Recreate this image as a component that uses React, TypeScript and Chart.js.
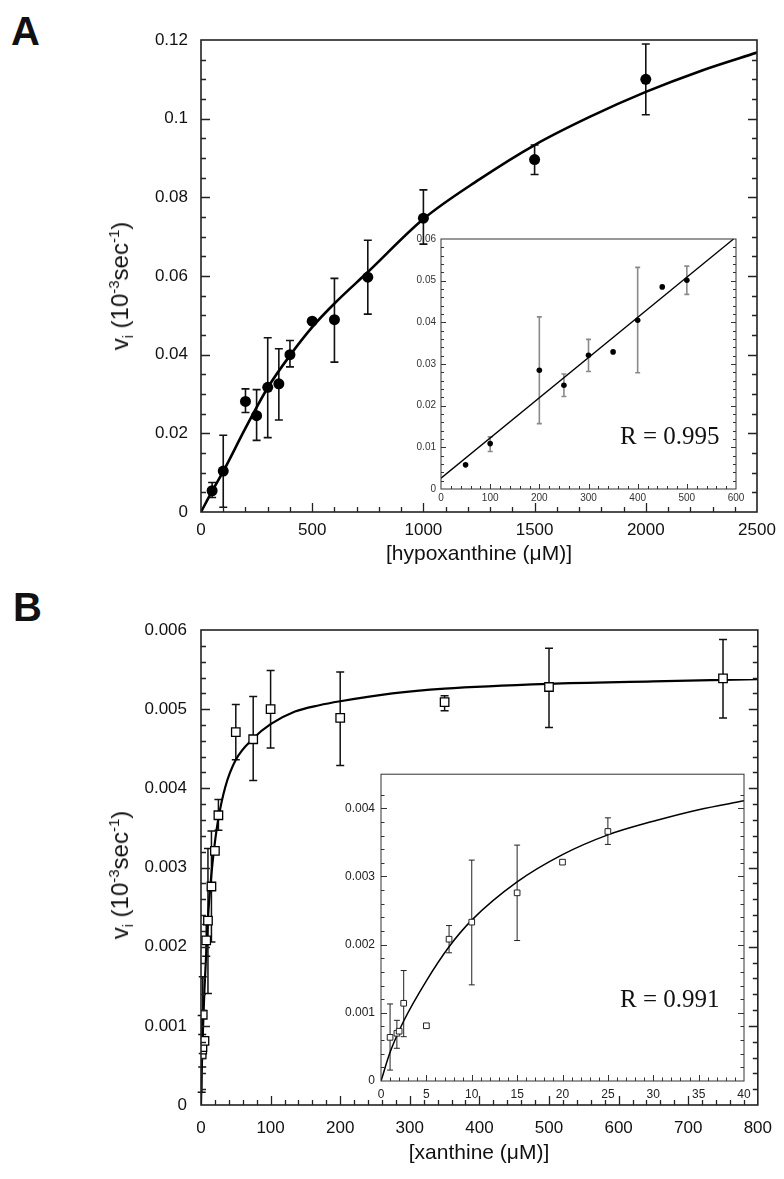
import React, { useEffect, useRef } from "react";
import { Chart, registerables } from "chart.js";
Chart.register(...registerables);

// ---------- Panel A (hypoxanthine) ----------
const hypoX = [50, 100, 200, 250, 300, 350, 400, 500, 600, 750, 1000, 1500, 2000];
const hypoV = [0.0054, 0.0104, 0.0281, 0.0245, 0.0317, 0.0326, 0.04, 0.0485, 0.0489, 0.0597, 0.0747, 0.0896, 0.11];
const hypoLo = [0.0037, 0.0012, 0.0253, 0.0182, 0.0189, 0.0234, 0.0369, null, 0.0381, 0.0503, 0.0681, 0.0858, 0.101];
const hypoHi = [0.0075, 0.0195, 0.0313, 0.0311, 0.0443, 0.0415, 0.0436, null, 0.0594, 0.0691, 0.0819, 0.0933, 0.119];
const hypoFitX = [0, 50, 100, 200, 300, 400, 500, 600, 750, 1000, 1250, 1500, 1750, 2000, 2250, 2500];
const hypoFitV = [0, 0.0053, 0.0103, 0.0213, 0.0316, 0.0398, 0.047, 0.053, 0.061, 0.0745, 0.0845, 0.0933, 0.1005, 0.1068, 0.1122, 0.1168];
const hypoXTicks = [0, 500, 1000, 1500, 2000, 2500];
const hypoXLabels = ["0", "500", "1000", "1500", "2000", "2500"];
const hypoYTicks = [0, 0.02, 0.04, 0.06, 0.08, 0.1, 0.12];
const hypoYLabels = ["0", "0.02", "0.04", "0.06", "0.08", "0.1", "0.12"];

// inset A (linear range)
const insAX = [50, 100, 200, 250, 300, 350, 400, 450, 500];
const insAV = [0.0058, 0.0109, 0.0285, 0.0249, 0.0321, 0.0329, 0.0405, 0.0485, 0.0501];
const insALo = [null, 0.009, 0.0157, 0.0222, 0.0282, null, 0.0279, null, 0.0467];
const insAHi = [null, 0.0125, 0.0413, 0.0276, 0.0359, null, 0.0532, null, 0.0535];
const insAFitX = [0, 595];
const insAFitV = [0.0026, 0.06];
const insAXTicks = [0, 100, 200, 300, 400, 500, 600];
const insAXLabels = ["0", "100", "200", "300", "400", "500", "600"];
const insAYTicks = [0, 0.01, 0.02, 0.03, 0.04, 0.05, 0.06];
const insAYLabels = ["0", "0.01", "0.02", "0.03", "0.04", "0.05", "0.06"];

// ---------- Panel B (xanthine) ----------
const xanX = [1, 1.75, 2, 2.5, 5, 7.5, 10, 15, 20, 25, 50, 75, 100, 200, 350, 500, 750];
const xanV = [0.00064, 0.0007, 0.00073, 0.00114, 0.00081, 0.00208, 0.00233, 0.00276, 0.00321, 0.00366, 0.00471, 0.00462, 0.005, 0.00489, 0.00509, 0.00528, 0.00539];
const xanLo = [0.00016, 0.00048, null, 0.00065, 0.00078, 0.00188, 0.00141, 0.00206, null, 0.00347, 0.00436, 0.0041, 0.00451, 0.00429, 0.00498, 0.00477, 0.00489];
const xanHi = [0.00113, 0.00089, null, 0.00162, 0.00084, 0.00228, 0.00324, 0.00346, null, 0.00386, 0.00506, 0.00516, 0.00549, 0.00547, 0.00517, 0.00577, 0.00588];
const xanFitX = [0, 1, 2.5, 5, 10, 15, 20, 25, 35, 50, 75, 100, 135, 170, 200, 275, 350, 500, 650, 800];
const xanFitV = [0, 0.00042, 0.00088, 0.00147, 0.00236, 0.00292, 0.00332, 0.00362, 0.00402, 0.00436, 0.00463, 0.00481, 0.00497, 0.00505, 0.0051, 0.0052, 0.00526, 0.00532, 0.00535, 0.00538];
const xanXTicks = [0, 100, 200, 300, 400, 500, 600, 700, 800];
const xanXLabels = ["0", "100", "200", "300", "400", "500", "600", "700", "800"];
const xanYTicks = [0, 0.001, 0.002, 0.003, 0.004, 0.005, 0.006];
const xanYLabels = ["0", "0.001", "0.002", "0.003", "0.004", "0.005", "0.006"];

// inset B (low range)
const insBX = [1, 1.75, 2, 2.5, 5, 7.5, 10, 15, 20, 25];
const insBV = [0.00064, 0.0007, 0.00073, 0.00114, 0.00081, 0.00208, 0.00233, 0.00276, 0.00321, 0.00366];
const insBLo = [0.00016, 0.00048, null, 0.00065, 0.00078, 0.00188, 0.00141, 0.00206, null, 0.00347];
const insBHi = [0.00113, 0.00089, null, 0.00162, 0.00084, 0.00228, 0.00324, 0.00346, null, 0.00386];
const insBFitX = [0, 1, 2.5, 5, 7.5, 10, 15, 20, 25, 30, 35, 40];
const insBFitV = [0, 0.00042, 0.00088, 0.00147, 0.00197, 0.00236, 0.00292, 0.00332, 0.00361, 0.00381, 0.00398, 0.00411];
const insBXTicks = [0, 5, 10, 15, 20, 25, 30, 35, 40];
const insBXLabels = ["0", "5", "10", "15", "20", "25", "30", "35", "40"];
const insBYTicks = [0, 0.001, 0.002, 0.003, 0.004];
const insBYLabels = ["0", "0.001", "0.002", "0.003", "0.004"];

const pts = (xs: number[], ys: number[]) => xs.map((x, i) => ({ x, y: ys[i] }));

type Spec = {
  id: string;
  left: number; top: number; w: number; h: number; z: number;
  pad: { left: number; top: number; right: number; bottom: number };
  yW: number; xH: number;
  xMin: number; xMax: number; yMin: number; yMax: number;
  xTicks: number[]; xLabels: string[]; yTicks: number[]; yLabels: string[];
  xMinor: number; xMajor: number; yMinor: number; yMajor: number;
  font: number; color: string; xPad: number; yPad: number;
  majorLen: number; minorLen: number; frameW: number; frameColor: string;
  err: { x: number[]; lo: (number | null)[]; hi: (number | null)[]; color: string; width: number; cap: number };
  datasets: any[];
};

function drawTicks(chart: any, s: Spec) {
  const { ctx, chartArea: a } = chart;
  const xs = chart.scales.x;
  const ys = chart.scales.y;
  ctx.save();
  ctx.strokeStyle = s.frameColor;
  ctx.lineWidth = s.frameW;
  ctx.strokeRect(a.left, a.top, a.right - a.left, a.bottom - a.top);
  ctx.lineWidth = Math.max(1, s.frameW - 0.3);
  const nx = Math.round((s.xMax - s.xMin) / s.xMinor);
  for (let i = 1; i < nx; i++) {
    const v = s.xMin + i * s.xMinor;
    const major = Math.abs(v / s.xMajor - Math.round(v / s.xMajor)) < 1e-6;
    const p = Math.round(xs.getPixelForValue(v)) + 0.5;
    const L = major ? s.majorLen : s.minorLen;
    ctx.beginPath();
    ctx.moveTo(p, a.bottom);
    ctx.lineTo(p, a.bottom - L);
    ctx.stroke();
  }
  const ny = Math.round((s.yMax - s.yMin) / s.yMinor);
  for (let i = 1; i < ny; i++) {
    const v = s.yMin + i * s.yMinor;
    const major = Math.abs(v / s.yMajor - Math.round(v / s.yMajor)) < 1e-6;
    const p = Math.round(ys.getPixelForValue(v)) + 0.5;
    const L = major ? s.majorLen : s.minorLen;
    ctx.beginPath();
    ctx.moveTo(a.left, p);
    ctx.lineTo(a.left + L, p);
    ctx.moveTo(a.right, p);
    ctx.lineTo(a.right - L, p);
    ctx.stroke();
  }
  ctx.restore();
}

function drawErr(chart: any, s: Spec) {
  const { ctx } = chart;
  const xs = chart.scales.x;
  const ys = chart.scales.y;
  const e = s.err;
  ctx.save();
  ctx.strokeStyle = e.color;
  ctx.lineWidth = e.width;
  e.x.forEach((xv, i) => {
    const lo = e.lo[i];
    const hi = e.hi[i];
    if (lo == null || hi == null) return;
    const px = xs.getPixelForValue(xv);
    const p1 = ys.getPixelForValue(lo);
    const p2 = ys.getPixelForValue(hi);
    ctx.beginPath();
    ctx.moveTo(px, p1);
    ctx.lineTo(px, p2);
    ctx.moveTo(px - e.cap, p1);
    ctx.lineTo(px + e.cap, p1);
    ctx.moveTo(px - e.cap, p2);
    ctx.lineTo(px + e.cap, p2);
    ctx.stroke();
  });
  ctx.restore();
}

function buildConfig(s: Spec): any {
  const plugin = {
    id: "deco_" + s.id,
    beforeDraw(chart: any) {
      const { ctx, chartArea: a } = chart;
      ctx.save();
      ctx.fillStyle = "#ffffff";
      ctx.fillRect(a.left, a.top, a.right - a.left, a.bottom - a.top);
      ctx.restore();
    },
    beforeDatasetsDraw(chart: any) {
      drawErr(chart, s);
    },
    afterDatasetsDraw(chart: any) {
      drawTicks(chart, s);
    },
  };
  const tickFont = { family: "'Liberation Sans', Arial, sans-serif", size: s.font };
  return {
    type: "line",
    data: { datasets: s.datasets },
    options: {
      responsive: false,
      maintainAspectRatio: false,
      animation: false,
      events: [],
      layout: { padding: s.pad },
      plugins: { legend: { display: false }, tooltip: { enabled: false }, title: { display: false } },
      scales: {
        x: {
          type: "linear",
          min: s.xMin,
          max: s.xMax,
          border: { display: false },
          grid: { display: false, drawTicks: false },
          ticks: {
            autoSkip: false,
            maxRotation: 0,
            padding: s.xPad,
            font: tickFont,
            color: s.color,
            callback: (_v: any, i: number) => s.xLabels[i],
          },
          afterBuildTicks: (sc: any) => {
            sc.ticks = s.xTicks.map((v) => ({ value: v }));
          },
          afterFit: (sc: any) => {
            sc.height = s.xH;
          },
        },
        y: {
          type: "linear",
          min: s.yMin,
          max: s.yMax,
          border: { display: false },
          grid: { display: false, drawTicks: false },
          ticks: {
            autoSkip: false,
            padding: s.yPad,
            font: tickFont,
            color: s.color,
            callback: (_v: any, i: number) => s.yLabels[i],
          },
          afterBuildTicks: (sc: any) => {
            sc.ticks = s.yTicks.map((v) => ({ value: v }));
          },
          afterFit: (sc: any) => {
            sc.width = s.yW;
          },
        },
      },
    },
    plugins: [plugin],
  };
}

const specA: Spec = {
  id: "A", left: 101, top: 0, w: 683, h: 557, z: 1,
  pad: { left: 0, top: 40, right: 27, bottom: 0 }, yW: 100, xH: 45,
  xMin: 0, xMax: 2500, yMin: 0, yMax: 0.12,
  xTicks: hypoXTicks, xLabels: hypoXLabels, yTicks: hypoYTicks, yLabels: hypoYLabels,
  xMinor: 100, xMajor: 500, yMinor: 0.005, yMajor: 0.02,
  font: 17, color: "#111", xPad: 8, yPad: 13,
  majorLen: 9, minorLen: 5, frameW: 1.6, frameColor: "#222",
  err: { x: hypoX, lo: hypoLo, hi: hypoHi, color: "#111", width: 1.6, cap: 4 },
  datasets: [
    { data: pts(hypoX, hypoV), showLine: false, pointRadius: 5.5, pointBackgroundColor: "#000", pointBorderColor: "#000", pointBorderWidth: 0 },
    { data: pts(hypoFitX, hypoFitV), borderColor: "#000", borderWidth: 2.6, pointRadius: 0, cubicInterpolationMode: "monotone", fill: false },
  ],
};

const specAi: Spec = {
  id: "Ai", left: 401, top: 228, w: 347, h: 281, z: 2,
  pad: { left: 0, top: 8, right: 12, bottom: 0 }, yW: 40, xH: 20,
  xMin: 0, xMax: 600, yMin: 0, yMax: 0.06,
  xTicks: insAXTicks, xLabels: insAXLabels, yTicks: insAYTicks, yLabels: insAYLabels,
  xMinor: 20, xMajor: 100, yMinor: 0.002, yMajor: 0.01,
  font: 10, color: "#333", xPad: 3, yPad: 5,
  majorLen: 5, minorLen: 3, frameW: 1, frameColor: "#333",
  err: { x: insAX, lo: insALo, hi: insAHi, color: "#8a8a8a", width: 1.6, cap: 2.5 },
  datasets: [
    { data: pts(insAX, insAV), showLine: false, pointRadius: 2.8, pointBackgroundColor: "#000", pointBorderColor: "#000", pointBorderWidth: 0 },
    { data: pts(insAFitX, insAFitV), borderColor: "#000", borderWidth: 1.3, pointRadius: 0, tension: 0, fill: false },
  ],
};

const specB: Spec = {
  id: "B", left: 101, top: 590, w: 684, h: 560, z: 1,
  pad: { left: 0, top: 40, right: 27, bottom: 0 }, yW: 100, xH: 45,
  xMin: 0, xMax: 800, yMin: 0, yMax: 0.006,
  xTicks: xanXTicks, xLabels: xanXLabels, yTicks: xanYTicks, yLabels: xanYLabels,
  xMinor: 20, xMajor: 100, yMinor: 0.0002, yMajor: 0.001,
  font: 17, color: "#111", xPad: 13, yPad: 14,
  majorLen: 9, minorLen: 5, frameW: 1.6, frameColor: "#222",
  err: { x: xanX, lo: xanLo, hi: xanHi, color: "#111", width: 1.5, cap: 4 },
  datasets: [
    { data: pts(xanX, xanV), showLine: false, pointStyle: "rect", pointRadius: 6, pointBackgroundColor: "#fff", pointBorderColor: "#000", pointBorderWidth: 1.3 },
    { data: pts(xanFitX, xanFitV), borderColor: "#000", borderWidth: 2.2, pointRadius: 0, cubicInterpolationMode: "monotone", fill: false },
  ],
};

const specBi: Spec = {
  id: "Bi", left: 331, top: 761, w: 428, h: 345, z: 2,
  pad: { left: 0, top: 10, right: 15, bottom: 0 }, yW: 50, xH: 25,
  xMin: 0, xMax: 40, yMin: 0, yMax: 0.0045,
  xTicks: insBXTicks, xLabels: insBXLabels, yTicks: insBYTicks, yLabels: insBYLabels,
  xMinor: 1, xMajor: 5, yMinor: 0.0002, yMajor: 0.001,
  font: 12, color: "#222", xPad: 6, yPad: 6,
  majorLen: 6, minorLen: 3.5, frameW: 1, frameColor: "#333",
  err: { x: insBX, lo: insBLo, hi: insBHi, color: "#222", width: 1, cap: 3 },
  datasets: [
    { data: pts(insBX, insBV), showLine: false, pointStyle: "rect", pointRadius: 4, pointBackgroundColor: "#fff", pointBorderColor: "#222", pointBorderWidth: 1 },
    { data: pts(insBFitX, insBFitV), borderColor: "#000", borderWidth: 1.5, pointRadius: 0, cubicInterpolationMode: "monotone", fill: false },
  ],
};

function Plot({ spec }: { spec: Spec }) {
  const ref = useRef<HTMLCanvasElement>(null);
  useEffect(() => {
    const chart = new Chart(ref.current as HTMLCanvasElement, buildConfig(spec));
    return () => chart.destroy();
  }, [spec]);
  return (
    <canvas
      ref={ref}
      width={spec.w}
      height={spec.h}
      style={{ position: "absolute", left: spec.left, top: spec.top, width: spec.w, height: spec.h, zIndex: spec.z }}
    />
  );
}

const sans = "'Liberation Sans', Arial, Helvetica, sans-serif";
const serif = "'Liberation Serif', 'Times New Roman', serif";

function YTitle({ cx, cy }: { cx: number; cy: number }) {
  return (
    <div
      style={{
        position: "absolute", left: cx, top: cy, zIndex: 5,
        transform: "translate(-50%, -50%) rotate(-90deg)",
        fontFamily: sans, fontSize: 24, whiteSpace: "nowrap", color: "#111", lineHeight: "26px",
      }}
    >
      v<sub style={{ fontSize: 14, verticalAlign: "-5px" }}>i</sub> (10
      <sup style={{ fontSize: 15, verticalAlign: "9px" }}>-3</sup>sec
      <sup style={{ fontSize: 15, verticalAlign: "9px" }}>-1</sup>)
    </div>
  );
}

function Text({ x, y, size, children, family, weight, center }: any) {
  return (
    <div
      style={{
        position: "absolute", left: x, top: y, zIndex: 5, fontFamily: family, fontSize: size,
        fontWeight: weight || "normal", lineHeight: size + "px", whiteSpace: "nowrap", color: "#111",
        transform: center ? "translateX(-50%)" : undefined,
      }}
    >
      {children}
    </div>
  );
}

export default function App() {
  return (
    <div style={{ position: "absolute", left: 0, top: 0, width: 784, height: 1179, background: "#fff", overflow: "hidden" }}>
      <Plot spec={specA} />
      <Plot spec={specAi} />
      <Plot spec={specB} />
      <Plot spec={specBi} />
      <Text x={11} y={11} size={40} family={sans} weight="bold">A</Text>
      <Text x={13} y={587} size={40} family={sans} weight="bold">B</Text>
      <YTitle cx={121} cy={286} />
      <YTitle cx={121} cy={875} />
      <Text x={479} y={542} size={21} family={sans} center>[hypoxanthine (μM)]</Text>
      <Text x={479} y={1141} size={21} family={sans} center>[xanthine (μM)]</Text>
      <Text x={620} y={423} size={25} family={serif}>R = 0.995</Text>
      <Text x={620} y={986} size={25} family={serif}>R = 0.991</Text>
    </div>
  );
}
